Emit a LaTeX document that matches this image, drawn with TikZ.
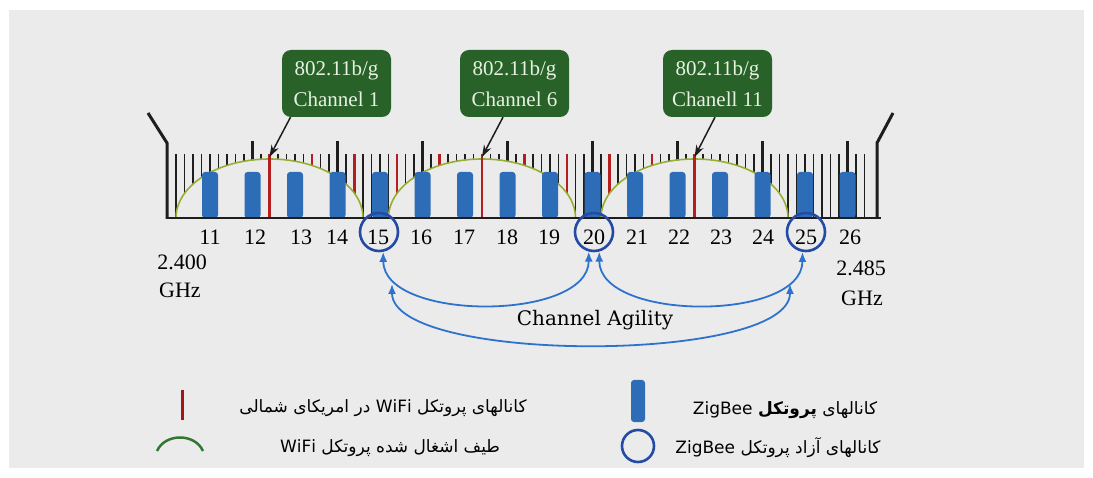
\documentclass[tikz,border=0pt]{standalone}
\usepackage{fontspec}
\usepackage{graphicx}
\setmainfont{Liberation Serif}
\newfontfamily\fa[Script=Arabic]{DejaVu Sans}
\newfontfamily\agilfont{DejaVu Serif}
\TeXXeTstate=1
\usetikzlibrary{arrows.meta,calc}
\definecolor{bg}{RGB}{236,235,236}
\definecolor{tickc}{RGB}{30,30,30}
\definecolor{wred}{RGB}{180,30,30}
\definecolor{legred}{RGB}{160,25,25}
\definecolor{arcg}{RGB}{150,175,50}
\definecolor{legg}{RGB}{50,120,50}
\definecolor{zb}{RGB}{45,108,182}
\definecolor{circc}{RGB}{35,75,165}
\definecolor{agb}{RGB}{45,115,205}
\definecolor{boxg}{RGB}{40,98,40}
\definecolor{boxt}{RGB}{232,242,226}
\tikzset{
  tickline/.style={tickc, line width=1.8pt},
  talltick/.style={tickc, line width=2.4pt},
  redtick/.style={wred, line width=2.4pt},
  wifiarc/.style={arcg, line width=1.6pt},
  zbbar/.style={fill=zb, rounded corners=3pt},
  chnum/.style={font=\fontsize{22}{24}\selectfont, inner sep=0pt},
  freecirc/.style={draw=circc, circle, line width=2.6pt, minimum size=38pt, inner sep=0pt},
  wbox/.style={rounded corners=9pt, fill=boxg, text=boxt, minimum width=109pt, minimum height=67pt,
    align=center, inner sep=0pt, font=\fontsize{21}{31}\selectfont},
  warrow/.style={tickc, line width=1.5pt, -{Stealth[length=12pt,width=8pt]}},
  agarrow/.style={agb, line width=1.8pt, {Latex[length=10pt,width=8pt]}-{Latex[length=10pt,width=8pt]}},
  legtext/.style={font=\fa\fontsize{17}{19}\selectfont, inner sep=0pt},
}
\begin{document}
\begin{tikzpicture}[x=1pt,y=-1pt]
\useasboundingbox (0,0) rectangle (1093,478);
\fill[white] (0,0) rectangle (1093,478);
\fill[bg] (9,10) rectangle (1084,468);

% ticks every MHz
\foreach \f in {1,...,82}{
  \pgfmathsetmacro\xx{167.5+8.5*\f}
  \pgfmathtruncatemacro\isten{(mod(\f,10)==0)}
  \pgfmathtruncatemacro\isred{(mod(\f,5)==2)&&(\f>=12)&&(\f<=62)}
  \ifnum\isten=1
    \draw[talltick] (\xx,141) -- (\xx,218);
  \else\ifnum\isred=1
    \draw[redtick] (\xx,154) -- (\xx,218);
  \else
    \draw[tickline] (\xx,154) -- (\xx,218);
  \fi\fi
}

% WiFi occupied spectrum arcs
\foreach \c in {269.5,482,694.5}{
  \fill[bg] (\c-93.5,218.5) arc[start angle=180,end angle=0,x radius=93.5pt,y radius=59pt] -- cycle;
  \draw[wifiarc] (\c-93.5,218) arc[start angle=180,end angle=0,x radius=93.5pt,y radius=59pt];
  \draw[redtick] (\c,218) -- (\c,158);
}

% ZigBee channel bars
\foreach \k in {11,...,26}{
  \pgfmathsetmacro\bx{210+42.5*(\k-11)}
  \fill[zbbar] (\bx-8,172) rectangle (\bx+8,218);
}

% baseline and band edges
\draw[tickc, line width=2pt] (166,218) -- (881,218);
\draw[tickc, line width=3pt] (167,219) -- (167,143) -- (148,113);
\draw[tickc, line width=3pt] (877,219) -- (877,143) -- (893,113);

% channel numbers
\foreach \k/\nx in {11/210,12/255,13/301,14/337,15/378,16/421,17/464,18/507,19/549,20/594,21/637,22/679,23/721,24/763,25/806,26/850}{
  \node[chnum] (n\k) at (\nx,237) {\k};
}
\node[chnum] (f1) at (182,262) {2.400};
\node[chnum] (g1) at (180,290) {GHz};
\node[chnum] (f2) at (861,268) {2.485};
\node[chnum] (g2) at (862,298) {GHz};

% free ZigBee channels
\node[freecirc] (c15) at (379,232) {};
\node[freecirc] (c20) at (594,232) {};
\node[freecirc] (c25) at (806,232) {};

% WiFi channel boxes
\node[wbox] (b1) at (336.5,83.5) {802.11b/g\\Channel 1};
\node[wbox] (b2) at (514.5,83.5) {802.11b/g\\Channel 6};
\node[wbox] (b3) at (717.5,83.5) {802.11b/g\\Chanell 11};
\coordinate (w1) at (269.5,157);
\coordinate (w6) at (482,157);
\coordinate (w11) at (694.5,157);
\draw[warrow] ($(b1.south)+(-46,0)$) -- (w1);
\draw[warrow] ($(b2.south)+(-11.5,0)$) -- (w6);
\draw[warrow] ($(b3.south)+(-2.5,0)$) -- (w11);

% channel agility
\draw[agarrow] (c15.-78) .. controls +(0,70) and +(0,70) .. (c20.-105);
\draw[agarrow] (c20.-75) .. controls +(0,70) and +(0,70) .. (c25.-100);
\coordinate (oa) at (392,284);
\coordinate (ob) at (790,284);
\draw[agarrow] (oa) .. controls +(0,80) and +(0,80) .. (ob);
\node[font=\agilfont\fontsize{20}{22}\selectfont, inner sep=0pt] (agl) at (595,320) {Channel Agility};

% legend
\draw[legred, line width=3pt] (182,390) -- (182,420);
\draw[legg, line width=2.5pt] (157,451) .. controls (165,433) and (195,433) .. (203,451);
\fill[zbbar] (631,380) rectangle (645,422);
\node[freecirc, minimum size=32pt] (lc) at (638,446) {};
\node[legtext] (t1) at (383,408) {\beginR کانالهای پروتکل \beginL WiFi\endL{} در امریکای شمالی\endR};
\node[legtext] (t2) at (390,448) {\beginR طیف اشغال شده پروتکل \beginL WiFi\endL\endR};
\node[legtext] (t3) at (785,410) {\beginR کانالهای {\bfseries پروتکل} \beginL ZigBee\endL\endR};
\node[legtext] (t4) at (778,448) {\beginR کانالهای آزاد پروتکل \beginL ZigBee\endL\endR};
\end{tikzpicture}
\end{document}
